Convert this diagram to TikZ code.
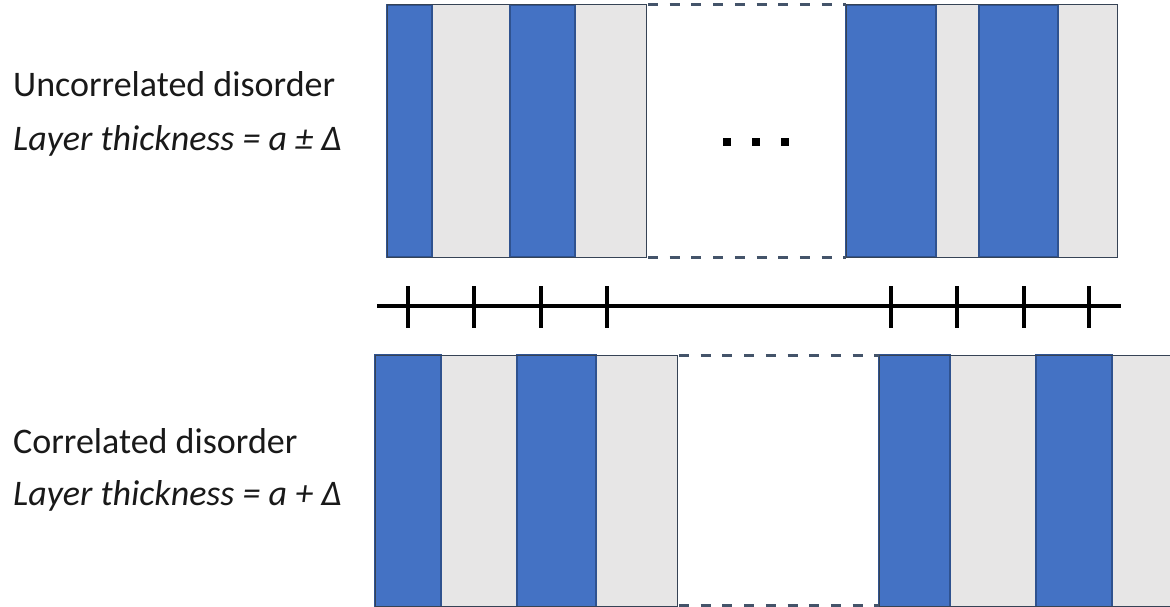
\documentclass[tikz,border=0pt]{standalone}
\usepackage{fontspec}
\setmainfont{Carlito}
\definecolor{lblue}{HTML}{4472C4}
\definecolor{lgray}{HTML}{E7E6E6}
\definecolor{slate}{HTML}{44546A}
\definecolor{edgeb}{HTML}{2F528F}
\begin{document}
\begin{tikzpicture}[x=1pt,y=-1pt]
\tikzset{
  bluestripe/.style={fill=lblue, draw=edgeb, line width=1.2},
  graystripe/.style={fill=lgray},
  blockedge/.style={draw=slate!80!black, line width=1},
  dashline/.style={draw=slate, line width=3, dash pattern=on 10pt off 11.7pt},
  axisline/.style={draw=black, line width=4},
  label/.style={anchor=base west, inner sep=0pt, text=black!90, font=\fontsize{36}{42}\selectfont},
  dotsq/.style={fill=black}
}
\useasboundingbox (0,0) rectangle (1170,607);
% ---- top blocks ----
\fill[graystripe] (432,5) rectangle (510,257);
\fill[graystripe] (575,5) rectangle (646,257);
\draw[bluestripe] (387,5) rectangle (432,257);
\draw[bluestripe] (510,5) rectangle (575,257);
\draw[blockedge] (387,5) rectangle (646,257);
\fill[graystripe] (936,5) rectangle (979,257);
\fill[graystripe] (1058,5) rectangle (1117,257);
\draw[bluestripe] (846,5) rectangle (936,257);
\draw[bluestripe] (979,5) rectangle (1058,257);
\draw[blockedge] (846,5) rectangle (1117,257);
\draw[dashline] (648,5) -- (846,5);
\draw[dashline] (648,257) -- (846,257);
% dots
\fill[dotsq] (723,138) rectangle (731,146);
\fill[dotsq] (752,138) rectangle (760,146);
\fill[dotsq] (781,138) rectangle (789,146);
% ---- axis ----
\coordinate (axl) at (377,306);
\coordinate (axr) at (1121,306);
\draw[axisline] (axl) -- (axr);
\foreach \x in {408,474,541,607,891,957,1024,1089}
  \draw[axisline] (\x,286) -- (\x,328);
% ---- bottom blocks ----
\fill[graystripe] (441,355) rectangle (517,607);
\fill[graystripe] (596,355) rectangle (677,607);
\draw[bluestripe] (375,355) rectangle (441,607);
\draw[bluestripe] (517,355) rectangle (596,607);
\draw[blockedge] (375,355) rectangle (677,606.5);
\fill[graystripe] (950,355) rectangle (1036,607);
\fill[graystripe] (1112,355) rectangle (1170,607);
\draw[bluestripe] (879,355) rectangle (950,607);
\draw[bluestripe] (1036,355) rectangle (1112,607);
\draw[blockedge] (879,355) -- (1170,355);
\draw[blockedge] (879,606.5) -- (1170,606.5);
\draw[blockedge] (879,355) -- (879,607);
\draw[dashline] (679,355) -- (879,355);
\draw[dashline] (679,605.5) -- (879,605.5);
% ---- labels ----
\node[label] (u1) at (13,97) {Uncorrelated disorder};
\node[label] (u2) at (13,150) {\itshape Layer thickness = a ± Δ};
\node[label] (c1) at (13,453) {Correlated disorder};
\node[label] (c2) at (13,505) {\itshape Layer thickness = a + Δ};
\end{tikzpicture}
\end{document}
